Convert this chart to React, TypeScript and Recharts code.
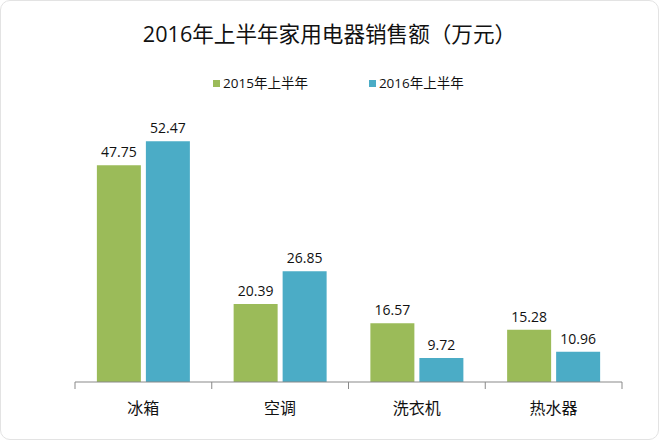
import React from "react";
import { BarChart, Bar, XAxis, YAxis, LabelList } from "recharts";

const categories = ["冰箱", "空调", "洗衣机", "热水器"];
const sales2015 = [47.75, 20.39, 16.57, 15.28];
const sales2016 = [52.47, 26.85, 9.72, 10.96];
const seriesNames = ["2015年上半年", "2016年上半年"];
const seriesColors = ["#9BBB59", "#4BACC6"];
const yDomain = [5, 60];

const W = 659;
const H = 440;
const margin = { top: 103, right: 37, left: 75, bottom: 0 };
const plotW = W - margin.left - margin.right;
const band = plotW / categories.length;
const FONT = '"Open Sans", "Noto Sans CJK SC", sans-serif';

const chartData = categories.map((c, i) => ({
  name: c,
  s2015: sales2015[i],
  s2016: sales2016[i],
}));

function CatTick(props: any) {
  const { x, y, payload, index } = props;
  const left = x - band / 2;
  return (
    <g>
      <line x1={left} y1={y - 8} x2={left} y2={y - 1} stroke="#898989" strokeWidth={1} />
      {index === categories.length - 1 && (
        <line x1={left + band} y1={y - 8} x2={left + band} y2={y - 1} stroke="#898989" strokeWidth={1} />
      )}
      <text x={x} y={y + 24} textAnchor="middle" fontSize={16} fill="#111" fontFamily={FONT}>
        {payload.value}
      </text>
    </g>
  );
}

export default function App() {
  return (
    <div
      style={{
        position: "absolute",
        left: 0,
        top: 0,
        width: W,
        height: H,
        background: "#fff",
        fontFamily: FONT,
      }}
    >
      <div
        style={{
          position: "absolute",
          inset: 0,
          border: "1px solid #e3e3e3",
          borderRadius: 10,
          boxSizing: "border-box",
        }}
      />
      <div
        style={{
          position: "absolute",
          top: 20,
          left: 0,
          width: W,
          textAlign: "center",
          fontSize: 21.6,
          color: "#111",
          lineHeight: "28px",
        }}
      >
        2016年上半年家用电器销售额（万元）
      </div>
      <div
        style={{
          position: "absolute",
          top: 74,
          left: 213,
          display: "flex",
          fontSize: 13.5,
          color: "#111",
          lineHeight: "18px",
        }}
      >
        {seriesNames.map((n, i) => (
          <div key={n} style={{ display: "flex", alignItems: "center", marginRight: i === 0 ? 61 : 0 }}>
            <span style={{ width: 7, height: 7, background: seriesColors[i], marginRight: 3 }} />
            <span>{n}</span>
          </div>
        ))}
      </div>
      <div style={{ position: "absolute", left: 0, top: 0 }}>
        <BarChart width={W} height={H} data={chartData} margin={margin} barCategoryGap="16%" barGap={5}>
          <XAxis
            dataKey="name"
            height={58}
            axisLine={{ stroke: "#898989", strokeWidth: 1 }}
            tickLine={false}
            tick={<CatTick />}
            interval={0}
          />
          <YAxis hide domain={yDomain} />
          <Bar dataKey="s2015" name={seriesNames[0]} fill={seriesColors[0]} isAnimationActive={false}>
            <LabelList dataKey="s2015" position="top" offset={8} fontSize={14} fill="#111" fontFamily={FONT} />
          </Bar>
          <Bar dataKey="s2016" name={seriesNames[1]} fill={seriesColors[1]} isAnimationActive={false}>
            <LabelList dataKey="s2016" position="top" offset={8} fontSize={14} fill="#111" fontFamily={FONT} />
          </Bar>
        </BarChart>
      </div>
    </div>
  );
}
